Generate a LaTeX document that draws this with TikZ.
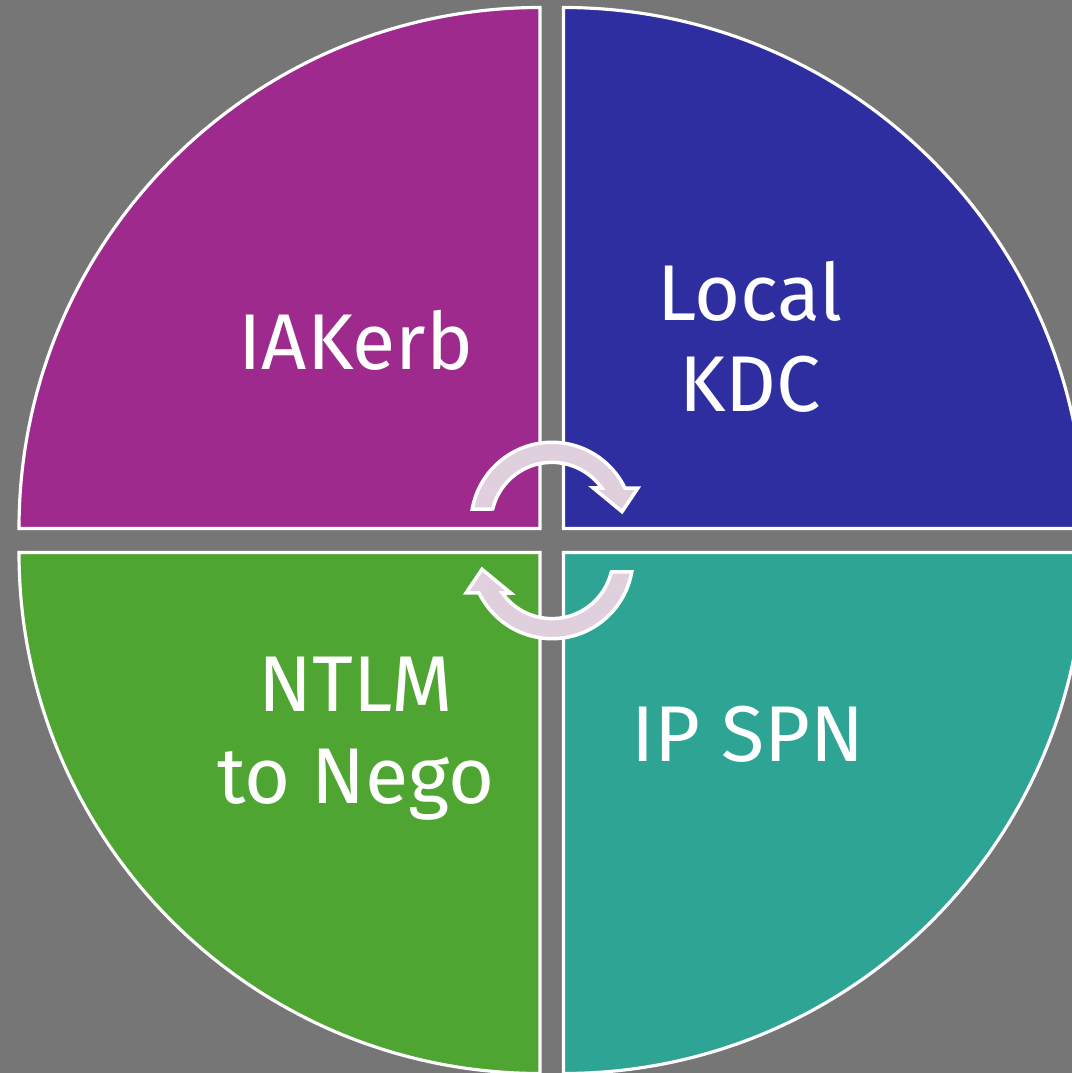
\documentclass[tikz,border=0pt]{standalone}
\usepackage{fontspec}
\setmainfont{Fira Sans}
\definecolor{sfondo}{RGB}{118,118,118}
\definecolor{viola}{RGB}{158,42,142}
\definecolor{blu}{RGB}{46,46,160}
\definecolor{verde}{RGB}{79,165,49}
\definecolor{turchese}{RGB}{46,165,148}
\definecolor{rosa}{RGB}{224,208,222}
\tikzset{
  spicchio/.style={draw=white, line width=1.8pt, line join=miter},
  freccia/.style={draw=white, fill=rosa, line width=2pt, line join=miter},
  etichetta/.style={text=white, font=\fontsize{45}{52}\selectfont, align=center}
}
\begin{document}
\begin{tikzpicture}[x=0.02cm, y=0.02cm]
	\useasboundingbox (0,0) rectangle (1072,1073);
	\fill[sfondo] (0,0) rectangle (1072,1073);
	\clip (0,0) rectangle (1072,1073);
	\begin{scope}
	  % quattro spicchi, raggio 521
	  \filldraw[spicchio, fill=viola] (540,544.5) -- ++(-521,0) arc[start angle=180, end angle=90, radius=521] -- cycle;
	  \filldraw[spicchio, fill=blu] (563.5,544.5) -- ++(0,521) arc[start angle=90, end angle=0, radius=521] -- cycle;
	  \filldraw[spicchio, fill=verde] (540,520.5) -- ++(0,-521) arc[start angle=270, end angle=180, radius=521] -- cycle;
	  \filldraw[spicchio, fill=turchese] (563.5,520.5) -- ++(521,0) arc[start angle=0, end angle=-90, radius=521] -- cycle;

	  % frecce circolari al centro
	  \foreach \rot in {0,180}
	    \filldraw[freccia, rotate around={\rot:(552,532.5)}]
	      (552,549.7) ++(169.9:81) arc[start angle=169.9, end angle=25.8, radius=81]
	      -- ++(13,0) -- (622,561.3) -- (593.3,585) -- (601.7,585)
	      arc[start angle=35.4, end angle=166.4, radius=61] -- cycle;

	  \node[etichetta, anchor=base] (iakerb) at (356,703) {IAKerb};
	  \node[etichetta, anchor=base] (localkdc) at (750,661.3) {Local\\KDC};
	  \node[etichetta, anchor=base] (ntlm) at (356,269.7) {NTLM\\to Nego};
	  \node[etichetta, anchor=base] (ipspn) at (748,311) {IP SPN};
	\end{scope}
\end{tikzpicture}
\end{document}
